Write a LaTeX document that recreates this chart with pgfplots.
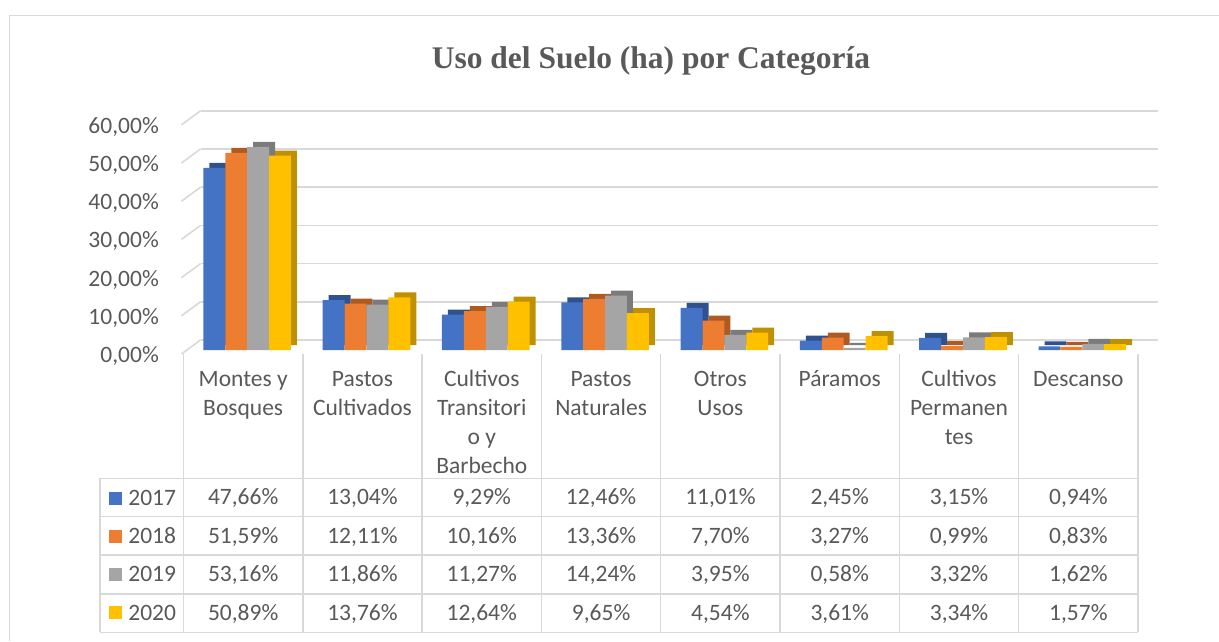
\documentclass[border=0pt]{standalone}
\usepackage{pgfplots}
\pgfplotsset{compat=1.18}
\usepackage{pgfplotstable}
\usepackage{fontspec}
\setmainfont{Carlito}
\newfontfamily\titlefont{Liberation Serif}
\definecolor{cB}{HTML}{4472C4}
\definecolor{cO}{HTML}{ED7D31}
\definecolor{cG}{HTML}{A5A5A5}
\definecolor{cY}{HTML}{FFC000}
\definecolor{dB}{HTML}{2F528F}
\definecolor{dO}{HTML}{AE5A21}
\definecolor{dG}{HTML}{7B7B7B}
\definecolor{dY}{HTML}{BF9000}
\definecolor{txt}{HTML}{595959}
\definecolor{gridc}{HTML}{D9D9D9}

\pgfplotstableread{
x v
0 47.66
1 13.04
2 9.29
3 12.46
4 11.01
5 2.45
6 3.15
7 0.94
}\tA
\pgfplotstableread{
x v
0 51.59
1 12.11
2 10.16
3 13.36
4 7.70
5 3.27
6 0.99
7 0.83
}\tB
\pgfplotstableread{
x v
0 53.16
1 11.86
2 11.27
3 14.24
4 3.95
5 0.58
6 3.32
7 1.62
}\tC
\pgfplotstableread{
x v
0 50.89
1 13.76
2 12.64
3 9.65
4 4.54
5 3.61
6 3.34
7 1.57
}\tD

\newcommand{\fs}{\fontsize{23.5}{28.9}\selectfont}
\pgfplotsset{
  front/.style={ybar, bar width=21.9pt, draw=none, fill=#1},
  back/.style={ybar, bar width=21.9pt, draw=none, fill=#1, yshift=5pt},
  vals/.style={draw=none, mark=none, point meta=explicit,
    nodes near coords={\pgfmathprintnumber[fixed,fixed zerofill,precision=2,use comma,assume math mode=true]{\pgfplotspointmeta}\%},
    nodes near coords align={center},
    every node near coord/.append style={font=\fs, text=txt, anchor=base, inner sep=0pt}},
}

\begin{document}
\begin{tikzpicture}[x=1pt,y=1pt]
\useasboundingbox (0,0) rectangle (1219,-641);
\draw[gridc, line width=1pt] (9.5,-641) -- (9.5,-15.5) -- (1219,-15.5);
\node[font=\titlefont\fontsize{31.5}{36}\selectfont\bfseries, text=txt, anchor=base, inner sep=0pt] at (651,-68.5) {Uso del Suelo (ha) por Categoría};

\begin{axis}[at={(183.5pt,-350pt)}, anchor=south west, scale only axis,
  width=954.5pt, height=229.2pt,
  xmin=-0.5, xmax=7.5, ymin=0, ymax=60, clip=false,
  axis line style={draw=none}, tick style={draw=none},
  xtick=\empty, ytick={0,10,...,60},
  yticklabel={\pgfmathprintnumber[fixed,fixed zerofill,precision=2,use comma,assume math mode=true]{\tick}\%},
  yticklabel style={font=\fs, text=txt, inner sep=0pt, anchor=east, xshift=-24.5pt, yshift=-6pt},
]
\pgfplotsinvokeforeach{0,10,20,30,40,50,60}{
  \draw[gridc, line width=1.6pt] ([xshift=17pt,yshift=10pt]axis cs:-0.5,#1) -- ([xshift=20pt,yshift=10pt]axis cs:7.5,#1);
  \draw[gridc, line width=1.6pt] ([xshift=-2pt,yshift=-4pt]axis cs:-0.5,#1) -- ([xshift=17pt,yshift=10pt]axis cs:-0.5,#1);
}
% depth faces
\addplot[back=dB, bar shift=-22.85pt] table[x=x,y=v]{\tA};
\addplot[back=dO, bar shift=-0.95pt] table[x=x,y=v]{\tB};
\addplot[back=dG, bar shift=20.95pt] table[x=x,y=v]{\tC};
\addplot[back=dY, bar shift=42.85pt] table[x=x,y=v]{\tD};
% front faces
\addplot[front=cB, bar shift=-28.85pt] table[x=x,y=v]{\tA};
\addplot[front=cO, bar shift=-6.95pt] table[x=x,y=v]{\tB};
\addplot[front=cG, bar shift=14.95pt] table[x=x,y=v]{\tC};
\addplot[front=cY, bar shift=36.85pt] table[x=x,y=v]{\tD};
% table values
\addplot[vals] table[x=x, y expr=-40.55, meta=v]{\tA};
\addplot[vals] table[x=x, y expr=-50.60, meta=v]{\tB};
\addplot[vals] table[x=x, y expr=-60.71, meta=v]{\tC};
\addplot[vals] table[x=x, y expr=-70.84, meta=v]{\tD};
\end{axis}

% table grid
\foreach \k in {0,...,8} {
  \draw[gridc, line width=1.5pt] ({183.5+119.3*\k},-354) -- ({183.5+119.3*\k},-632.3);
}
\draw[gridc, line width=1.5pt] (100,-478.3) -- (100,-632.3);
\foreach \yy in {478.3,516.7,555,594,632.3} {
  \draw[gridc, line width=1.5pt] (100,-\yy) -- (1138,-\yy);
}
% category labels
\tikzset{cat/.style={font=\fs, text=txt, anchor=base, inner sep=0pt}}
\foreach \k/\a/\b/\c/\d in {0/Montes y/Bosques//, 1/Pastos/Cultivados//, 2/Cultivos/Transitori/o y/Barbecho, 3/Pastos/Naturales//, 4/Otros/Usos//, 5/Páramos///, 6/Cultivos/Permanen/tes/, 7/Descanso///} {
  \node[cat] at ({243.2+119.3*\k},-386.7) {\a};
  \node[cat] at ({243.2+119.3*\k},-415.6) {\b};
  \node[cat] at ({243.2+119.3*\k},-444.5) {\c};
  \node[cat] at ({243.2+119.3*\k},-473.4) {\d};
}
% row headers
\foreach \y/\c/\t in {505.3/cB/2017, 543.5/cO/2018, 581.8/cG/2019, 620.2/cY/2020} {
  \fill[\c] (109,-\y+13.8) rectangle (121.7,-\y+0.8);
  \node[font=\fs, text=txt, anchor=base west, inner sep=0pt] at (128.2,-\y) {\t};
}
\end{tikzpicture}
\end{document}
